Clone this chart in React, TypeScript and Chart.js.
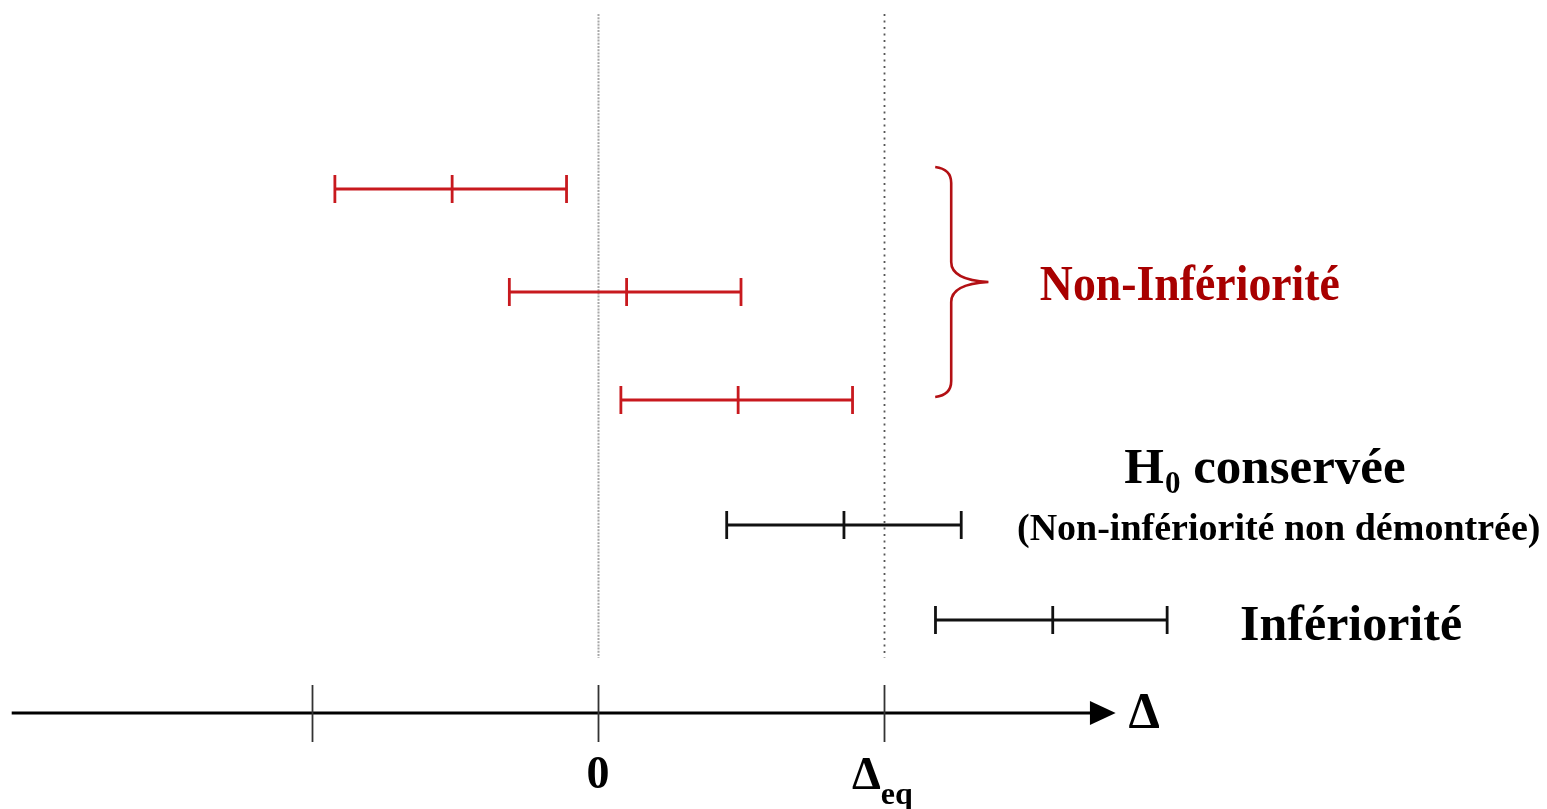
import React, { useEffect, useRef } from "react";
import { Chart, registerables } from "chart.js";

Chart.register(...registerables);

// Interval rows (row level, lower bound, point estimate, upper bound)
const rowLevels = [5.24, 4.21, 3.13, 1.88, 0.93];
const lowerBounds = [-0.92, -0.31, 0.08, 0.45, 1.18];
const estimates = [-0.51, 0.1, 0.49, 0.86, 1.59];
const upperBounds = [-0.11, 0.5, 0.89, 1.27, 1.99];
const rowColors = ["#c8191e", "#c8191e", "#c8191e", "#111111", "#111111"];

// Axis ticks
const tickValues = [-1, 0, 1];
const tickLabels = ["", "0", "Δ"];
const refLines = [0, 1];

const RED_TEXT = "#a80000";
const SERIF = "'Liberation Serif', 'Times New Roman', serif";

const annotPlugin = {
  id: "annot",
  beforeDatasetsDraw(chart: any) {
    const ctx = chart.ctx;
    const xs = chart.scales.x;
    const ys = chart.scales.y;
    ctx.save();
    refLines.forEach((v, i) => {
      const px = Math.round(xs.getPixelForValue(v)) + 0.5;
      ctx.beginPath();
      ctx.moveTo(px, ys.getPixelForValue(6.99));
      ctx.lineTo(px, ys.getPixelForValue(0.55));
      if (i === 0) {
        ctx.strokeStyle = "#a8a8a8";
        ctx.lineWidth = 2;
        ctx.setLineDash([2, 1.2]);
      } else {
        ctx.strokeStyle = "#555555";
        ctx.lineWidth = 1.8;
        ctx.setLineDash([2, 4.5]);
      }
      ctx.stroke();
    });
    ctx.restore();
  },
  afterDatasetsDraw(chart: any) {
    const ctx = chart.ctx;
    const xs = chart.scales.x;
    const ys = chart.scales.y;
    const X = (v: number) => xs.getPixelForValue(v);
    const Y = (v: number) => ys.getPixelForValue(v);
    ctx.save();
    ctx.setLineDash([]);
    // horizontal axis
    const ay = Y(0);
    ctx.strokeStyle = "#000";
    ctx.lineWidth = 3;
    ctx.beginPath();
    ctx.moveTo(X(-2.05), ay);
    ctx.lineTo(X(1.73), ay);
    ctx.stroke();
    ctx.fillStyle = "#000";
    ctx.beginPath();
    ctx.moveTo(X(1.72), ay - 12);
    ctx.lineTo(X(1.81), ay);
    ctx.lineTo(X(1.72), ay + 12);
    ctx.closePath();
    ctx.fill();
    // ticks
    ctx.strokeStyle = "#333";
    ctx.lineWidth = 1.8;
    tickValues.forEach((v) => {
      const px = Math.round(X(v)) + 0.5;
      ctx.beginPath();
      ctx.moveTo(px, Y(0.28));
      ctx.lineTo(px, Y(-0.29));
      ctx.stroke();
    });
    // tick labels
    ctx.fillStyle = "#000";
    ctx.textBaseline = "alphabetic";
    tickValues.forEach((v, i) => {
      const lab = tickLabels[i];
      if (!lab) return;
      if (lab === "0") {
        ctx.font = `bold 46px ${SERIF}`;
        ctx.textAlign = "center";
        ctx.fillText(lab, X(v), 788);
      } else {
        ctx.font = `bold 46px ${SERIF}`;
        ctx.textAlign = "left";
        const w = ctx.measureText(lab).width;
        const x0 = X(v) - 32;
        ctx.fillText(lab, x0, 789);
        ctx.font = `bold 32px ${SERIF}`;
        ctx.fillText("eq", x0 + w, 804);
      }
    });
    // axis name
    ctx.font = `bold 50px ${SERIF}`;
    ctx.textAlign = "left";
    ctx.fillText("Δ", X(1.855), ay + 14);

    // brace
    ctx.strokeStyle = "#b31014";
    ctx.lineWidth = 2.6;
    const bx = X(1.235);
    const top = Y(5.46);
    const mid = Y(4.31);
    const bot = Y(3.16);
    const tipX = X(1.365);
    ctx.beginPath();
    ctx.moveTo(bx - 16, top);
    ctx.quadraticCurveTo(bx, top + 2, bx, top + 16);
    ctx.lineTo(bx, mid - 20);
    ctx.quadraticCurveTo(bx, mid - 2, tipX, mid);
    ctx.quadraticCurveTo(bx, mid + 2, bx, mid + 20);
    ctx.lineTo(bx, bot - 16);
    ctx.quadraticCurveTo(bx, bot - 2, bx - 16, bot);
    ctx.stroke();

    // labels
    ctx.textAlign = "left";
    ctx.fillStyle = RED_TEXT;
    ctx.font = `bold 50px ${SERIF}`;
    ctx.fillText("Non-Infériorité", X(1.545), Y(4.13), 300);

    ctx.fillStyle = "#000";
    const hx = X(1.84);
    const hy = Y(2.3);
    ctx.font = `bold 51px ${SERIF}`;
    ctx.fillText("H", hx, hy);
    const hw = ctx.measureText("H").width;
    ctx.font = `bold 31px ${SERIF}`;
    ctx.fillText("0", hx + hw + 1, hy + 10);
    const zw = ctx.measureText("0").width;
    ctx.font = `bold 51px ${SERIF}`;
    ctx.fillText(" conservée", hx + hw + zw + 1, hy);

    ctx.font = `bold 38px ${SERIF}`;
    ctx.fillText("(Non-infériorité non démontrée)", X(1.465), Y(1.73), 525);

    ctx.font = `bold 50px ${SERIF}`;
    ctx.fillText("Infériorité", X(2.245), Y(0.73), 222);
    ctx.restore();
  },
};

export default function App() {
  const ref = useRef<HTMLCanvasElement | null>(null);
  useEffect(() => {
    if (!ref.current) return;
    const datasets = rowLevels.map((lvl, i) => ({
      label: `row${i}`,
      data: [
        { x: lowerBounds[i], y: lvl },
        { x: estimates[i], y: lvl },
        { x: upperBounds[i], y: lvl },
      ],
      borderColor: rowColors[i],
      backgroundColor: rowColors[i],
      borderWidth: 2.8,
      pointStyle: "line" as const,
      rotation: 90,
      pointRadius: 14,
      pointBorderWidth: 2.8,
      pointHoverRadius: 14,
      showLine: true,
      tension: 0,
    }));
    const chart = new Chart(ref.current, {
      type: "scatter",
      data: { datasets },
      options: {
        animation: false,
        responsive: false,
        devicePixelRatio: 1,
        layout: { padding: 0, autoPadding: false },
        events: [],
        plugins: {
          legend: { display: false },
          tooltip: { enabled: false },
        },
        scales: {
          x: { type: "linear", display: false, min: -598 / 286, max: (1547 - 598) / 286 },
          y: { type: "linear", display: false, min: -0.96, max: 7.13 },
        },
      },
      plugins: [annotPlugin],
    });
    return () => chart.destroy();
  }, []);
  return (
    <div style={{ position: "fixed", left: 0, top: 0, width: 1547, height: 809, background: "#fff" }}>
      <canvas ref={ref} width={1547} height={809} style={{ display: "block" }} />
    </div>
  );
}
